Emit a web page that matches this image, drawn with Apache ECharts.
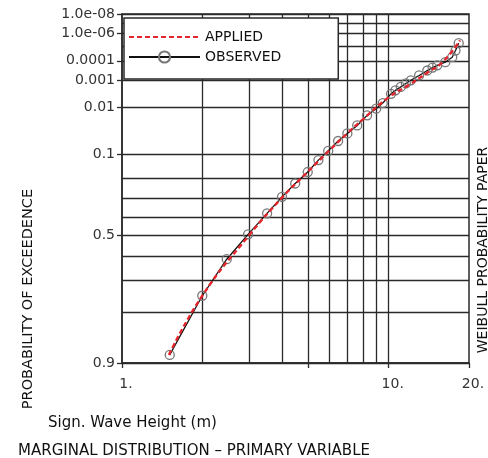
<!DOCTYPE html>
<html>
<head>
<meta charset="utf-8">
<script src="https://cdn.jsdelivr.net/npm/echarts@6/dist/echarts.min.js"></script>
<style>
  html, body { margin: 0; padding: 0; background: #fff; }
  #chart { width: 488px; height: 458px; }
</style>
</head>
<body>
<div id="chart"></div>
<script>
// observed sample: significant wave height (m) and probability of exceedence
const obsHeight = [1.51, 2.0, 2.47, 2.97, 3.5, 3.98, 4.46, 4.97, 5.45, 5.93, 6.46, 7.0, 7.62, 8.3, 8.97, 9.5,
  10.2, 10.6, 11.1, 11.6, 12.1, 13.0, 13.96, 14.6, 15.2, 16.3, 17.3, 17.8, 18.3];
const obsProb = [0.888, 0.752, 0.613, 0.493, 0.381, 0.292, 0.223, 0.169, 0.120, 0.088, 0.060, 0.043, 0.029, 0.0164, 0.0107, 0.0072,
  0.0035, 0.0026, 0.0019, 0.00137, 0.0010, 6.0e-4, 3.4e-4, 2.4e-4, 1.8e-4, 1.2e-4, 6.0e-5, 2.2e-5, 6.4e-6];

// applied (fitted) distribution
const fitHeight = [1.5, 2, 3, 4, 5, 6, 7, 8, 10, 12, 14, 16, 18.5];
const fitProb = [0.888, 0.752, 0.497, 0.293, 0.165, 0.086, 0.0427, 0.0207, 0.00467, 0.0015, 4.3e-4, 1.09e-4, 3.9e-6];

const yTickProbs = [0.9, 0.5, 0.1, 0.01, 0.001, 0.0001, 1e-6, 1e-8];
const yTickLabels = ['0.9', '0.5', '0.1', '0.01', '0.001', '0.0001', '1.0e-06', '1.0e-08'];
const yGridProbs = [0.9, 0.8, 0.7, 0.6, 0.5, 0.4, 0.3, 0.2, 0.1, 0.01, 0.001, 1e-4, 1e-5, 1e-6, 1e-7, 1e-8];

const xTickValues = [1, 5, 10, 20];
const xLabelValues = [1, 10, 20];
const xLabelText = ['1.', '10.', '20.'];
const xGridValues = [2, 3, 4, 5, 6, 7, 8, 9, 10];

// weibull paper: ln(-ln P) upwards, log10(h) across
const wy = p => Math.log(-Math.log(p));
const lx = h => Math.log10(h);

const nearest = (vals, v) => {
  let best = 0;
  vals.forEach((t, i) => { if (Math.abs(t - v) < Math.abs(vals[best] - v)) best = i; });
  return best;
};

const FONT = 'DejaVu Sans';
const INK = '#2a2a2a';
const yTickZ = yTickProbs.map(wy);
const xLabelL = xLabelValues.map(lx);

const chart = echarts.init(document.getElementById('chart'));

const xBase = { type: 'value', min: 0, max: lx(20) };
const yBase = { type: 'value', min: wy(0.9), max: wy(1e-8) };

const option = {
  animation: false,
  grid: {
    left: 122, right: 19, top: 14, bottom: 95,
    show: true, borderColor: INK, borderWidth: 1.5
  },
  title: [
    {
      text: 'Sign. Wave Height (m)', left: 43, top: 411,
      textStyle: { fontFamily: FONT, fontSize: 15, fontWeight: 'normal', color: '#111' }
    },
    {
      text: 'MARGINAL DISTRIBUTION – PRIMARY VARIABLE', left: 13, top: 439,
      textStyle: { fontFamily: FONT, fontSize: 15, fontWeight: 'normal', color: '#111' }
    }
  ],
  graphic: [
    {
      type: 'text', x: 28, y: 299, rotation: Math.PI / 2,
      style: { text: 'PROBABILITY OF EXCEEDENCE', font: '14.5px "DejaVu Sans"', fill: '#111', align: 'center', verticalAlign: 'middle' }
    },
    {
      type: 'text', x: 483, y: 250, rotation: Math.PI / 2,
      style: { text: 'WEIBULL PROBABILITY PAPER', font: '14px "DejaVu Sans"', fill: '#111', align: 'center', verticalAlign: 'middle' }
    }
  ],
  legend: {
    data: [
      { name: 'APPLIED', itemStyle: { opacity: 0 } },
      { name: 'OBSERVED' }
    ],
    orient: 'vertical',
    left: 124, top: 18,
    padding: [12, 57, 15, 4],
    itemWidth: 71, itemHeight: 14, itemGap: 6,
    backgroundColor: '#fff',
    borderColor: INK, borderWidth: 1.5, borderRadius: 0,
    textStyle: { fontFamily: FONT, fontSize: 14, color: '#111' }
  },
  xAxis: [
    Object.assign({}, xBase, {
      position: 'bottom',
      axisLine: { show: true, onZero: false, lineStyle: { color: INK, width: 1.5 } },
      axisTick: { show: true, length: 5, customValues: xTickValues.map(lx), lineStyle: { color: INK, width: 1.3 } },
      axisLabel: {
        customValues: xLabelL, margin: 14, padding: [0, 0, 0, 8],
        fontFamily: FONT, fontSize: 14, color: '#333',
        formatter: v => xLabelText[nearest(xLabelL, v)]
      },
      splitLine: { show: false }
    }),
    Object.assign({}, xBase, {
      position: 'top',
      axisLine: { show: false, onZero: false },
      axisTick: { show: false, customValues: xGridValues.map(lx) },
      axisLabel: { show: false },
      splitLine: { show: true, lineStyle: { color: INK, width: 1.3 } }
    })
  ],
  yAxis: [
    Object.assign({}, yBase, {
      position: 'left',
      axisLine: { show: true, onZero: false, lineStyle: { color: INK, width: 1.5 } },
      axisTick: { show: true, length: 5, customValues: yTickZ, lineStyle: { color: INK, width: 1.3 } },
      axisLabel: {
        customValues: yTickZ, margin: 7,
        fontFamily: FONT, fontSize: 14, color: '#333',
        formatter: v => yTickLabels[nearest(yTickZ, v)]
      },
      splitLine: { show: false }
    }),
    Object.assign({}, yBase, {
      position: 'right',
      axisLine: { show: false, onZero: false },
      axisTick: { show: false, customValues: yGridProbs.map(wy) },
      axisLabel: { show: false },
      splitLine: { show: true, lineStyle: { color: INK, width: 1.3 } }
    })
  ],
  series: [
    {
      name: 'OBSERVED',
      type: 'line',
      data: obsHeight.map((h, i) => [lx(h), wy(obsProb[i])]),
      symbol: 'circle',
      symbolSize: 9,
      lineStyle: { color: '#111', width: 1.3 },
      itemStyle: { color: 'rgba(255,255,255,0)', borderColor: '#777', borderWidth: 1.3 },
      z: 3
    },
    {
      name: 'APPLIED',
      type: 'line',
      data: fitHeight.map((h, i) => [lx(h), wy(fitProb[i])]),
      smooth: true,
      symbol: 'none',
      lineStyle: { color: '#e3262b', width: 2.4, type: [5, 3] },
      itemStyle: { color: '#e3262b' },
      z: 4
    }
  ]
};

chart.setOption(option);
</script>
</body>
</html>
